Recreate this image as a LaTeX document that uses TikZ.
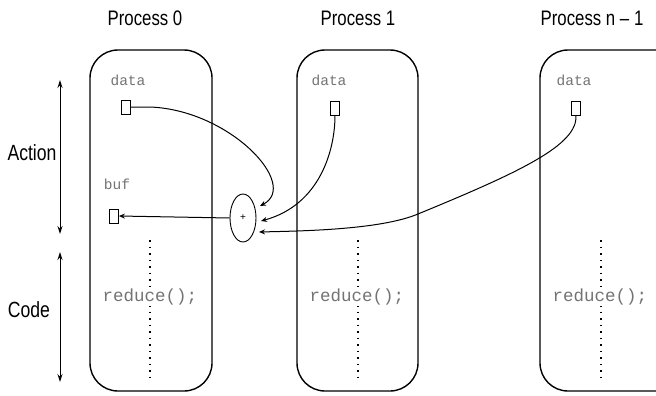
\documentclass[tikz,border=0pt]{standalone}
\usepackage{fontspec}
\setmainfont{Liberation Sans}
\newfontfamily\narrowsf{Liberation Sans}[FakeStretch=0.8]
\setmonofont{Liberation Mono}
\usetikzlibrary{arrows.meta,shapes.geometric}
\begin{document}
\begin{tikzpicture}[x=1pt,y=-1pt,
  procbox/.style={draw, line width=1.4pt, rounded corners=28pt},
  title/.style={font=\narrowsf\fontsize{21}{23}\selectfont, inner sep=0pt},
  side/.style={font=\narrowsf\fontsize{22}{24}\selectfont, inner sep=0pt},
  var/.style={font=\ttfamily\fontsize{14.5}{16}\selectfont, text=black!55, inner sep=0pt},
  code/.style={font=\ttfamily\fontsize{17.5}{19}\selectfont, text=black!55, inner sep=1pt, fill=white},
  cell/.style={draw, line width=0.8pt, minimum width=9pt, minimum height=14pt, inner sep=0pt},
  dots/.style={line width=1.2pt, dash pattern=on 1.5pt off 5pt},
  flow/.style={line width=1pt, -{Stealth[length=6pt,width=5pt]}},
  axis/.style={line width=1pt, {Stealth[length=8pt,width=5pt]}-{Stealth[length=8pt,width=5pt]}}]
\useasboundingbox (0,0) rectangle (656,396);
% process boxes
\draw[procbox] (90,391) rectangle (212,50);
\draw[procbox] (297,391) rectangle (418,50);
\draw[procbox] (540,391) rectangle (684,50);
% titles
\node[title] (t0) at (145,18) {Process 0};
\node[title] (t1) at (358,18) {Process 1};
\node[title] (t2) at (592,18) {Process n – 1};
% side labels
\node[side] (act) at (32,153) {Action};
\node[side] (cod) at (29,310) {Code};
\coordinate (a1) at (60,80);
\coordinate (a2) at (60,234);
\coordinate (c1) at (60,252);
\coordinate (c2) at (60,382);
\draw[axis] (a1) -- (a2);
\draw[axis] (c1) -- (c2);
% dotted code lines
\coordinate (d0a) at (150,240); \coordinate (d0b) at (150,380);
\coordinate (d1a) at (358,240); \coordinate (d1b) at (358,380);
\coordinate (d2a) at (601,240); \coordinate (d2b) at (601,380);
\draw[dots] (d0a) -- (d0b);
\draw[dots] (d1a) -- (d1b);
\draw[dots] (d2a) -- (d2b);
\node[code] (r0) at (150,297) {reduce();};
\node[code] (r1) at (357,297) {reduce();};
\node[code] (r2) at (600,297) {reduce();};
% variables
\node[var] (v0) at (128,80) {data};
\node[var] (v1) at (329,80) {data};
\node[var] (v2) at (574,80) {data};
\node[var] (vb) at (117,184) {buf};
\node[cell] (s0) at (126,107) {};
\node[cell] (s1) at (335,108) {};
\node[cell] (s2) at (576,108) {};
\node[cell] (sb) at (114,216) {};
% reduction operator
\node[draw, line width=0.9pt, ellipse, minimum width=26pt, minimum height=48pt, inner sep=0pt] (op) at (243,218) {\fontsize{10}{10}\selectfont +};
% connectors
\coordinate (e0) at (260,206);
\coordinate (e1) at (261,221);
\coordinate (e2) at (259,232);
\draw[flow] (s0.east) -- (150,107) .. controls (230,110) and (300,185) .. (e0);
\draw[flow] (s1.south) .. controls (335,150) and (320,205) .. (e1);
\draw[flow] (s2.south) .. controls (578,145) and (520,172) .. (418,214) .. controls (380,230) and (300,231) .. (e2);
\draw[flow] (op.west) -- (sb.east);
\end{tikzpicture}
\end{document}
